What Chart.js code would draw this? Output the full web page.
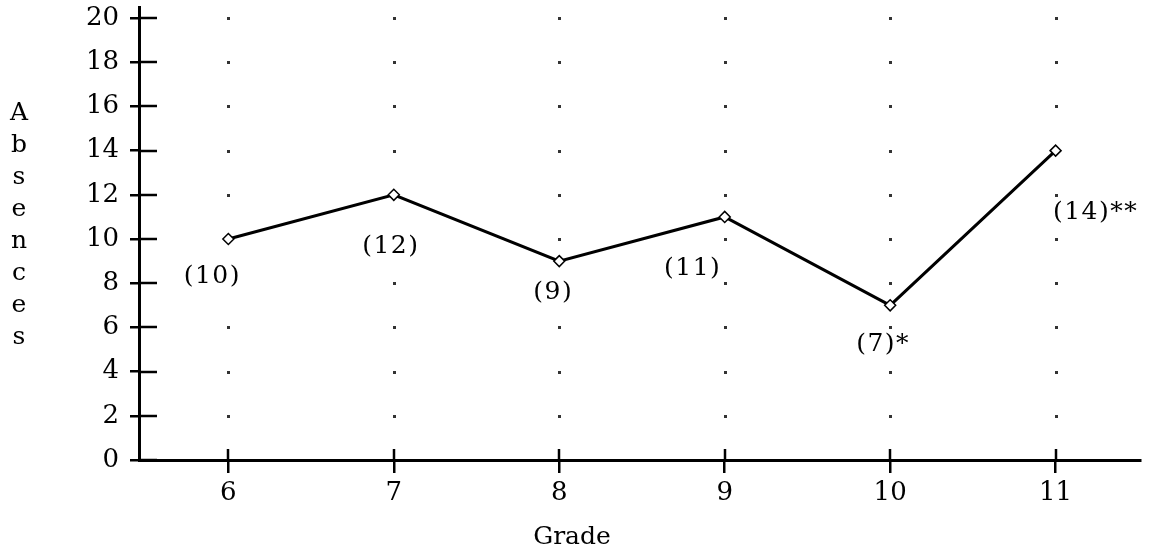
<!DOCTYPE html>
<html>
<head>
<meta charset="utf-8">
<script src="https://cdn.jsdelivr.net/npm/chart.js@4.4.1/dist/chart.umd.min.js"></script>
<style>
body{margin:0;background:#fff}
#wrap{width:1156px;height:554px}
</style>
</head>
<body>
<div id="wrap"><canvas id="myChart"></canvas></div>
<script>
const grades=[6,7,8,9,10,11]
const absences=[10,12,9,11,7,14]
const notes=['','','','','*','**']
const yTicks=[0,2,4,6,8,10,12,14,16,18,20]
const yTitle='Absences'
const xTitle='Grade'

const font='"DejaVu Serif", serif'
// where each "(n)" label sits, relative to its point
const labelOffsets=[[-16,37],[-3,52],[-6,31],[-32,52],[-7,39],[40,62]]

const extras={
    id:'extras',
    beforeDatasetsDraw(chart){
        const {ctx,scales:{x,y}}=chart
        ctx.save()
        ctx.fillStyle='#333'
        grades.forEach(g=>{
            yTicks.forEach(v=>{
                if(v===0)return
                ctx.fillRect(Math.round(x.getPixelForValue(g))-1,Math.round(y.getPixelForValue(v))-1,3,3)
            })
        })
        ctx.restore()
    },
    afterDatasetsDraw(chart){
        const {ctx,chartArea,scales:{x,y}}=chart
        ctx.save()
        ctx.strokeStyle='#000'
        ctx.lineWidth=2.5
        // inner half of the crossing ticks
        yTicks.forEach(v=>{
            const py=Math.round(y.getPixelForValue(v))
            ctx.beginPath()
            ctx.moveTo(chartArea.left,py)
            ctx.lineTo(chartArea.left+18,py)
            ctx.stroke()
        })
        grades.forEach(g=>{
            const px=Math.round(x.getPixelForValue(g))
            ctx.beginPath()
            ctx.moveTo(px,chartArea.bottom)
            ctx.lineTo(px,chartArea.bottom-11)
            ctx.stroke()
        })
        // point labels, on a white patch so the grid dots do not show through
        ctx.font='25px '+font
        ctx.letterSpacing='1.5px'
        ctx.textAlign='center'
        ctx.textBaseline='middle'
        chart.getDatasetMeta(0).data.forEach((p,i)=>{
            const [dx,dy]=labelOffsets[i]
            const txt='('+absences[i]+')'+notes[i]
            const w=ctx.measureText(txt).width
            ctx.fillStyle='#fff'
            ctx.fillRect(p.x+dx-w/2,p.y+dy-13,w,26)
            ctx.fillStyle='#000'
            ctx.fillText(txt,p.x+dx,p.y+dy)
        })
        ctx.letterSpacing='0px'
        // axis titles
        ctx.font='25px '+font
        yTitle.split('').forEach((c,i)=>ctx.fillText(c,19,113+i*32))
        ctx.fillText(xTitle,572,537)
        ctx.restore()
    }
}

const ctx=document.getElementById('myChart').getContext('2d')
const myChart=new Chart(ctx,{
    type:'line',
    data:{
        datasets:[{
            data:grades.map((g,i)=>({x:g,y:absences[i]})),
            borderColor:'#000',
            borderWidth:3,
            tension:0,
            pointStyle:'rectRot',
            pointRadius:5.5,
            pointBackgroundColor:'#fff',
            pointBorderColor:'#000',
            pointBorderWidth:1.5,
        }]
    },
    options:{
        responsive:true,
        maintainAspectRatio:false,
        animation:false,
        events:[],
        layout:{padding:{top:7,right:16,left:0,bottom:0}},
        plugins:{legend:{display:false},tooltip:{enabled:false}},
        scales:{
            x:{
                type:'linear',
                min:5.46,
                max:11.51,
                afterBuildTicks:s=>{s.ticks=grades.map(v=>({value:v}))},
                afterFit:s=>{s.height=94;s.paddingLeft=0;s.paddingRight=0},
                border:{color:'#000',width:3},
                grid:{drawOnChartArea:false,tickLength:13,color:'#000',lineWidth:2.5},
                ticks:{font:{family:font,size:26},color:'#000',padding:5}
            },
            y:{
                min:0,
                max:20.5,
                afterBuildTicks:s=>{s.ticks=yTicks.map(v=>({value:v}))},
                afterFit:s=>{s.width=139;s.paddingTop=0;s.paddingBottom=0},
                border:{color:'#000',width:3},
                grid:{drawOnChartArea:false,tickLength:9,color:'#000',lineWidth:2.5},
                ticks:{font:{family:font,size:26},color:'#000',padding:11}
            }
        }
    },
    plugins:[extras]
})
</script>
</body>
</html>
